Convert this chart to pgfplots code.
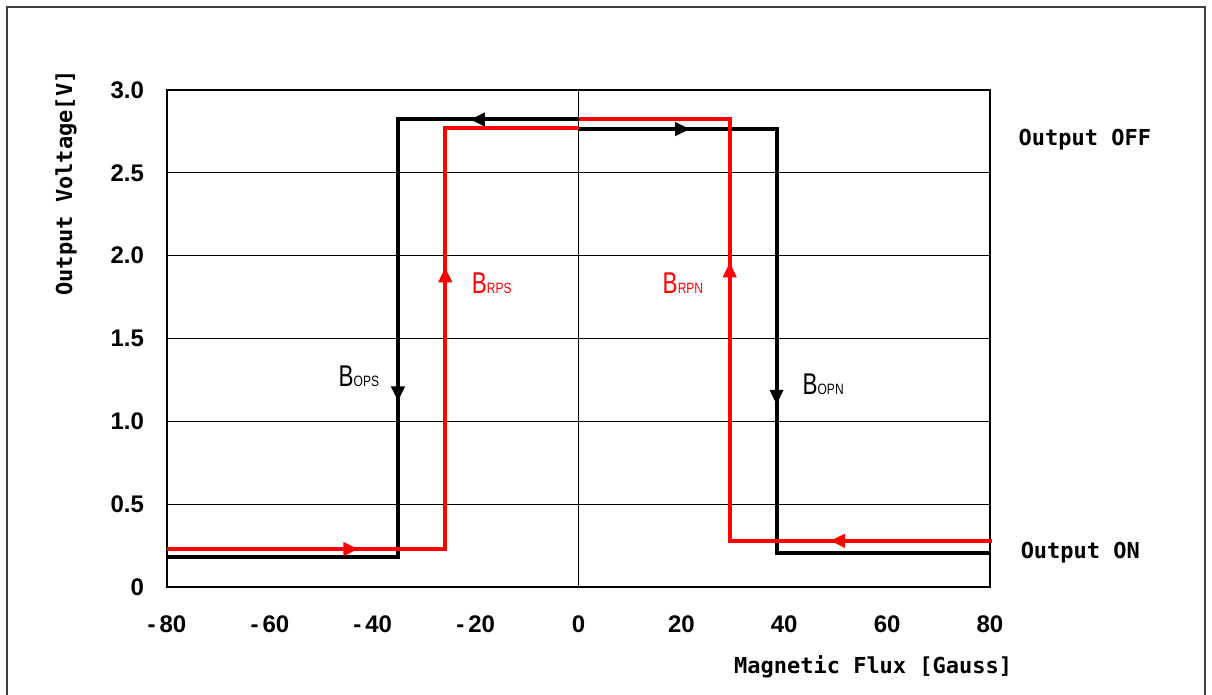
\documentclass[border=0pt]{standalone}
\usepackage{pgfplots}
\pgfplotsset{compat=1.18}
\usetikzlibrary{arrows.meta}
\usepackage{graphicx}
\usepackage{fontspec}
\setmainfont{Liberation Sans}
\newfontfamily\monofont{DejaVu Sans Mono}
\newfontfamily\tickfont{Liberation Sans}

% B with a condensed subscript, as in the reference
\newcommand{\Blab}[1]{\scalebox{0.75}[1]{\fontsize{15}{15}\selectfont B}\scalebox{0.8}[1]{\fontsize{7.5}{8}\selectfont #1}}

\begin{document}
\begin{tikzpicture}
\begin{axis}[
    at={(0,0)}, anchor=south west,
    scale only axis,
    width=411.5pt, height=248.5pt,
    xmin=-80, xmax=80, ymin=0, ymax=3,
    xtick={-80,-60,-40,-20,0,20,40,60,80},
    xticklabels={-\,80,-\,60,-\,40,-\,20,0,20,40,60,80},
    ytick={0,0.5,1,1.5,2,2.5,3},
    yticklabels={0,0.5,1.0,1.5,2.0,2.5,3.0},
    major tick length=0pt,
    ymajorgrids,
    extra x ticks={0}, extra x tick labels={},
    extra x tick style={grid=major},
    grid style={black, line width=0.5pt},
    axis line style={line width=0.6pt},
    /pgf/number format/assume math mode=true,
    ticklabel style={font=\tickfont\bfseries\fontsize{12}{14}\selectfont},
    yticklabel style={xshift=-8pt},
    xticklabel style={yshift=-11pt},
    xlabel={Magnetic Flux [Gauss]},
    ylabel={Output Voltage[V]},
    label style={font=\monofont\bfseries\fontsize{11}{13}\selectfont},
    xlabel style={at={(rel axis cs:0.858,0)}, anchor=center, yshift=-40pt},
    ylabel style={at={(rel axis cs:0,0.813)}, anchor=center, yshift=50.5pt},
    clip=false,
]
% black loop
\addplot[black, line width=2pt] coordinates {
    (-80,0.183) (-35.1,0.183) (-35.1,2.822) (0,2.822)
};
\addplot[black, line width=2pt] coordinates {
    (0,2.764) (38.5,2.764) (38.5,0.207) (80,0.207)
};
% red loop
\addplot[red, line width=2pt] coordinates {
    (-80,0.229) (-25.9,0.229) (-25.9,2.772) (0,2.772)
};
\addplot[red, line width=2pt] coordinates {
    (0,2.824) (29.4,2.824) (29.4,0.279) (80.4,0.279)
};
% direction arrows
\addplot[red, line width=2pt, -{Triangle[length=7.5pt,width=6.5pt]}] coordinates {(-52,0.229) (-42.8,0.229)};
\addplot[red, line width=2pt, -{Triangle[length=7.5pt,width=6.5pt]}] coordinates {(-25.9,1.6) (-25.9,1.93)};
\addplot[red, line width=2pt, -{Triangle[length=7.5pt,width=6.5pt]}] coordinates {(29.4,1.6) (29.4,1.96)};
\addplot[red, line width=2pt, -{Triangle[length=7.5pt,width=6.5pt]}] coordinates {(60,0.279) (48.9,0.279)};
\addplot[black, line width=2pt, -{Triangle[length=7.5pt,width=6.5pt]}] coordinates {(-12,2.822) (-21.1,2.822)};
\addplot[black, line width=2pt, -{Triangle[length=7.5pt,width=6.5pt]}] coordinates {(12,2.764) (21.7,2.764)};
\addplot[black, line width=2pt, -{Triangle[length=7.5pt,width=6.5pt]}] coordinates {(-35.1,1.4) (-35.1,1.12)};
\addplot[black, line width=2pt, -{Triangle[length=7.5pt,width=6.5pt]}] coordinates {(38.5,1.4) (38.5,1.10)};
% threshold labels
\node[anchor=base west, inner sep=0pt, text=black] at (axis cs:-46.7,1.21) {\Blab{OPS}};
\node[anchor=base west, inner sep=0pt, text=red] at (axis cs:-20.8,1.77) {\Blab{RPS}};
\node[anchor=base west, inner sep=0pt, text=red] at (axis cs:16.3,1.77) {\Blab{RPN}};
\node[anchor=base west, inner sep=0pt, text=black] at (axis cs:43.5,1.16) {\Blab{OPN}};
% output states
\node[anchor=west, inner sep=0pt, font=\monofont\bfseries\fontsize{11}{13}\selectfont] at (axis cs:85.5,2.70) {Output OFF};
\node[anchor=west, inner sep=0pt, font=\monofont\bfseries\fontsize{11}{13}\selectfont] at (axis cs:85.9,0.21) {Output ON};
\end{axis}
% outer frame
\draw[black!75, line width=0.7pt] (-80pt,-54pt) -- (-80pt,290pt) -- (519pt,290pt) -- (519pt,-54pt);
\pgfresetboundingbox
\useasboundingbox (-83.5pt,-54pt) rectangle (522.5pt,293.5pt);
\end{tikzpicture}
\end{document}
